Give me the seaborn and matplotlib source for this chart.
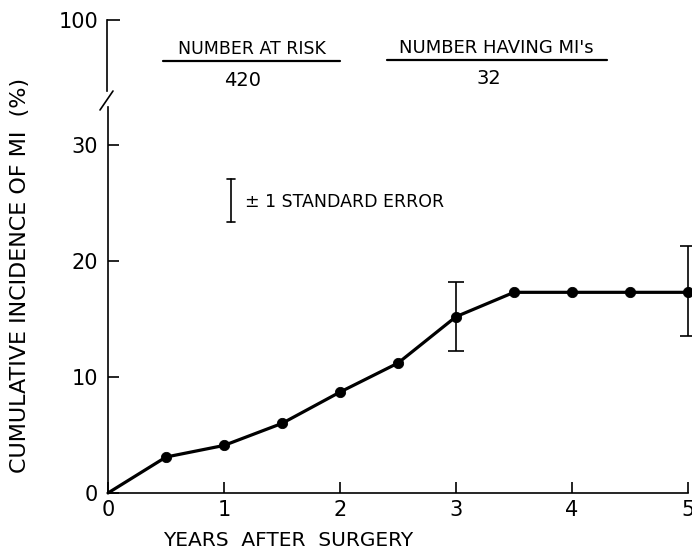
import matplotlib
matplotlib.use("Agg")
import matplotlib.pyplot as plt
from matplotlib.lines import Line2D
import seaborn as sns
import pandas as pd

years = [0, 0.5, 1, 1.5, 2, 2.5, 3, 3.5, 4, 4.5, 5]
incidence = [0, 3.1, 4.1, 6.0, 8.7, 11.2, 15.2, 17.3, 17.3, 17.3, 17.3]
se_years = [3, 5]
se_low = [12.2, 13.5]
se_high = [18.2, 21.3]
x_ticks = [0, 1, 2, 3, 4, 5]
y_ticks = [0, 10, 20, 30]
n_at_risk = "420"
n_mi = "32"

sns.set_theme(style="ticks")
plt.rcParams["font.family"] = ["DejaVu Sans"]
plt.rcParams["text.color"] = "black"

W, H = 692, 552
fig = plt.figure(figsize=(W / 100, H / 100), dpi=100)

def fx(px):
    return px / W

def fy(py):
    return 1 - py / H

lw_sp = 1.2
ax = fig.add_axes([fx(108), fy(493), (688 - 108) / W, (493 - 107) / H])
df = pd.DataFrame({"years": years, "inc": incidence})
sns.lineplot(data=df, x="years", y="inc", ax=ax, color="black", linewidth=2.3,
             marker=None, clip_on=False)
sns.scatterplot(data=df[df["years"] > 0], x="years", y="inc", ax=ax, color="black",
                s=55, edgecolor="black", zorder=5, clip_on=False)
for xv, lo, hi in zip(se_years, se_low, se_high):
    mid = (lo + hi) / 2
    ax.errorbar([xv], [mid], yerr=[[mid - lo], [hi - mid]], fmt="none",
                ecolor="black", elinewidth=1.2, capsize=6, capthick=1.2, clip_on=False)

ax.set_xlim(0, 5)
ax.set_ylim(0, (493 - 107) / 11.6)
ax.set_xticks(x_ticks)
ax.set_yticks(y_ticks)
ax.set_xticklabels([str(t) for t in x_ticks])
ax.set_yticklabels([str(t) for t in y_ticks])
ax.tick_params(axis="both", direction="in", length=8, width=lw_sp, labelsize=15,
               colors="black")
ax.tick_params(axis="x", pad=5)
ax.tick_params(axis="y", pad=7)
for s in ["top", "right"]:
    ax.spines[s].set_visible(False)
for s in ["left", "bottom"]:
    ax.spines[s].set_linewidth(lw_sp)
    ax.spines[s].set_color("black")
ax.set_xlabel("")
ax.set_ylabel("")

# upper broken segment
ax2 = fig.add_axes([fx(107), fy(91), 0.1, (91 - 20) / H])
ax2.set_ylim(90, 100)
ax2.set_yticks([100])
ax2.set_yticklabels(["100"])
ax2.set_xticks([])
ax2.patch.set_alpha(0)
for s in ["top", "right", "bottom"]:
    ax2.spines[s].set_visible(False)
ax2.spines["left"].set_linewidth(lw_sp)
ax2.spines["left"].set_color("black")
ax2.tick_params(axis="y", direction="in", length=9, width=lw_sp, labelsize=15,
                colors="black", pad=6)

# break mark
fig.add_artist(Line2D([fx(100), fx(113)], [fy(110), fy(91)], color="black", lw=lw_sp))

# axis labels
fig.text(fx(288), fy(540), "YEARS  AFTER  SURGERY", ha="center", va="center",
         fontsize=14.5, color="black")
fig.text(fx(20), fy(275), "CUMULATIVE INCIDENCE OF MI  (%)", ha="center", va="center",
         rotation=90, fontsize=16, color="black")

# header
fig.text(fx(252), fy(49), "NUMBER AT RISK", ha="center", va="center", fontsize=12.5,
         color="black")
fig.add_artist(Line2D([fx(163), fx(340)], [fy(61), fy(61)], color="black", lw=1.6))
fig.text(fx(243), fy(80), n_at_risk, ha="center", va="center", fontsize=14,
         color="black")
fig.text(fx(496), fy(48), "NUMBER HAVING MI's", ha="center", va="center", fontsize=13,
         color="black")
fig.add_artist(Line2D([fx(387), fx(607)], [fy(60), fy(60)], color="black", lw=1.6))
fig.text(fx(489), fy(79), n_mi, ha="center", va="center", fontsize=14, color="black")

# legend for standard error
fig.add_artist(Line2D([fx(231), fx(231)], [fy(179), fy(222)], color="black", lw=1.2))
fig.add_artist(Line2D([fx(227), fx(235)], [fy(179), fy(179)], color="black", lw=1.2))
fig.add_artist(Line2D([fx(227), fx(235)], [fy(222), fy(222)], color="black", lw=1.2))
fig.text(fx(245), fy(202), "± 1 STANDARD ERROR", ha="left", va="center", fontsize=12.5,
         color="black")

fig.savefig("out.png", dpi=100)
